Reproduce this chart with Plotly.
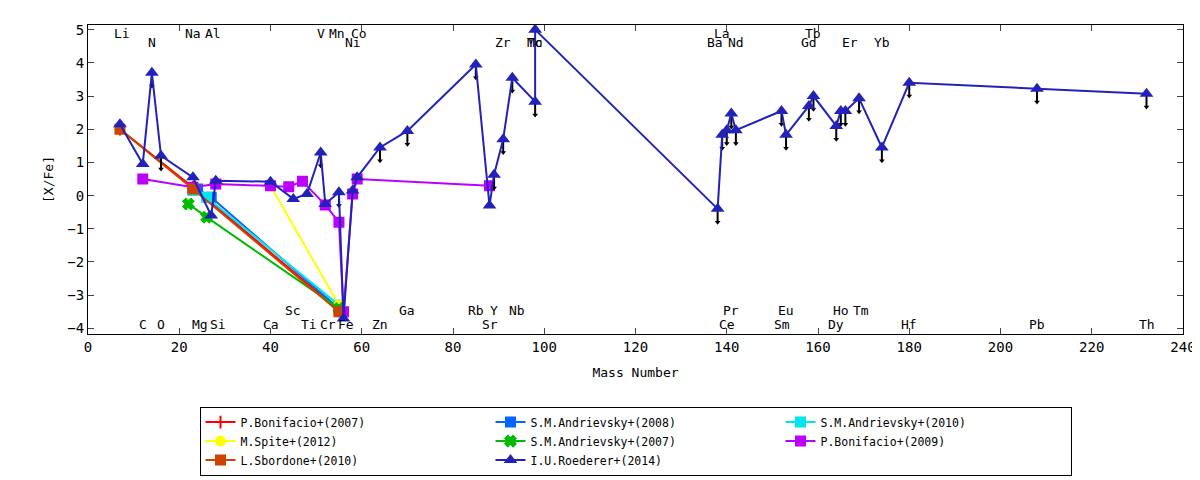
import plotly.graph_objects as go

# I.U.Roederer+(2014)
roe_mass = [7, 12, 14, 16, 23, 27, 28, 40, 45, 48, 51, 52, 55, 56, 58, 59, 64, 70,
            85, 88, 89, 91, 93, 98, 98, 138, 139, 140, 141, 142, 152, 153, 158, 159,
            164, 165, 166, 169, 174, 180, 208, 232]
roe_val = [2.15, 0.95, 3.7, 1.2, 0.55, -0.6, 0.45, 0.42, -0.1, 0.05, 1.3, -0.25, 0.1, -3.7,
           0.15, 0.55, 1.45, 1.95, 3.95, -0.3, 0.63, 1.7, 3.55, 2.83, 5.0, -0.4, 1.83,
           1.97, 2.47, 1.97, 2.55, 1.83, 2.7, 3.0, 2.1, 2.55, 2.55, 2.93, 1.45, 3.4,
           3.22, 3.07]
# upper limits (down arrows)
lim_mass = [14, 16, 51, 55, 64, 70, 85, 89, 91, 93, 98, 138, 139, 140, 141, 142, 152,
            153, 158, 159, 164, 165, 166, 169, 174, 180, 208, 232]
lim_val = [3.7, 1.2, 1.3, 0.1, 1.45, 1.95, 3.95, 0.63, 1.7, 3.55, 2.83, -0.4, 1.83,
           1.97, 2.47, 1.97, 2.55, 1.83, 2.7, 3.0, 2.1, 2.55, 2.55, 2.93, 1.45, 3.4,
           3.22, 3.07]

series = [
    ("P.Bonifacio+(2007)", "#ff0000", "line-ns", [7, 23, 55], [2.0, 0.25, -3.45]),
    ("S.M.Andrievsky+(2008)", "#0066ff", "square", [24, 27, 55], [0.2, -0.05, -3.4]),
    ("S.M.Andrievsky+(2010)", "#00e5ee", "square", [23, 26, 55], [0.15, -0.05, -3.3]),
    ("M.Spite+(2012)", "#ffff00", "circle", [40, 55], [0.3, -3.3]),
    ("S.M.Andrievsky+(2007)", "#00bb00", "x", [22, 26, 55], [-0.25, -0.65, -3.4]),
    ("P.Bonifacio+(2009)", "#bb00ff", "square",
     [12, 23, 28, 40, 44, 47, 52, 55, 56, 58, 59, 88],
     [0.5, 0.25, 0.35, 0.3, 0.27, 0.43, -0.28, -0.8, -3.5, 0.05, 0.5, 0.3]),
    ("L.Sbordone+(2010)", "#cc4400", "square", [7, 23, 55], [2.0, 0.2, -3.5]),
]

labels_top1 = [("Li", 7.5), ("Na", 23), ("Al", 27.5), ("V", 51), ("Mn", 54.5), ("Co", 59.5),
               ("La", 139), ("Tb", 159)]
labels_top2 = [("N", 14), ("Ni", 58), ("Zr", 91), ("Mo", 98), ("Tc", 98), ("Ba", 137.5),
               ("Nd", 142), ("Gd", 158), ("Er", 167), ("Yb", 174)]
labels_bot1 = [("Sc", 45), ("Ga", 70), ("Rb", 85), ("Y", 89), ("Nb", 94), ("Pr", 141),
               ("Eu", 153), ("Ho", 165), ("Tm", 169.5)]
labels_bot2 = [("C", 12), ("O", 16), ("Mg", 24.5), ("Si", 28.5), ("Ca", 40), ("Ti", 48.5),
               ("Cr", 52.5), ("Fe", 56.5), ("Zn", 64), ("Sr", 88), ("Ce", 140), ("Sm", 152),
               ("Dy", 164), ("Hf", 180), ("Pb", 208), ("Th", 232)]

FONT = "DejaVu Sans Mono"
fig = go.Figure()

for name, color, sym, xs, ys in series:
    fig.add_trace(go.Scatter(
        x=xs, y=ys, mode="lines+markers", name=name,
        line=dict(color=color, width=2),
        marker=dict(color=color, size=9, symbol=sym if sym != "line-ns" else "line-ns-open",
                    line=dict(color=color, width=2)),
    ))

# Upper limit arrows
fig.add_trace(go.Scatter(
    x=lim_mass, y=lim_val, mode="markers", showlegend=False,
    marker=dict(size=1, color="black"),
    error_y=dict(type="data", symmetric=False, array=[0] * len(lim_val),
                 arrayminus=[0.4] * len(lim_val), color="black", thickness=2, width=0),
    hoverinfo="skip",
))
fig.add_trace(go.Scatter(
    x=lim_mass, y=[v - 0.4 for v in lim_val], mode="markers", showlegend=False,
    marker=dict(size=5, color="black", symbol="triangle-down"),
    hoverinfo="skip",
))

fig.add_trace(go.Scatter(
    x=roe_mass, y=roe_val, mode="lines+markers", name="I.U.Roederer+(2014)",
    line=dict(color="#2222bb", width=2),
    marker=dict(color="#2222bb", size=12, symbol="triangle-up"),
))

annotations = []
for group, yv in [(labels_top1, 4.87), (labels_top2, 4.6), (labels_bot1, -3.47),
                  (labels_bot2, -3.87)]:
    for t, m in group:
        annotations.append(dict(x=m, y=yv, text=t, showarrow=False, xref="x", yref="y",
                                font=dict(family=FONT, size=13, color="black")))

fig.update_layout(
    width=1200, height=480,
    margin=dict(l=80, r=22, t=17, b=125),
    plot_bgcolor="white", paper_bgcolor="white",
    font=dict(family=FONT, size=13, color="black"),
    annotations=annotations,
    showlegend=True,
    legend=dict(orientation="h", x=0.5, xanchor="center", y=-0.235, yanchor="top",
                bordercolor="black", borderwidth=1, entrywidth=245,
                traceorder="normal", font=dict(family=FONT, size=11.5)),
)
fig.update_xaxes(range=[0, 240], dtick=20, ticks="inside", ticklen=6, mirror="allticks",
                 showline=True, linecolor="black", linewidth=1, showgrid=False,
                 zeroline=False, tickfont=dict(size=14),
                 title=dict(text="Mass Number", standoff=14, font=dict(size=13)))
fig.update_yaxes(range=[-4.17, 5.14], dtick=1, ticks="inside", ticklen=6, mirror="allticks",
                 showline=True, linecolor="black", linewidth=1, showgrid=False,
                 zeroline=False, tickfont=dict(size=14),
                 title=dict(text="[X/Fe]", standoff=10, font=dict(size=13)))

fig.write_html("out.html")
